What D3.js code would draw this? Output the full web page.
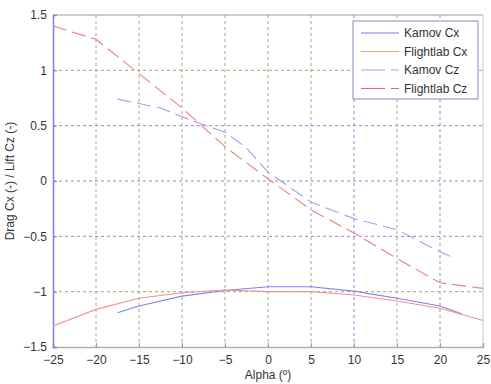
<!DOCTYPE html>
<html>
<head>
<meta charset="utf-8">
<script src="https://cdn.jsdelivr.net/npm/d3@7"></script>
<style>
  body { margin: 0; background: #fff; }
  text { font-family: "Liberation Sans", Arial, sans-serif; }
</style>
</head>
<body>
<svg id="chart" width="491" height="384"></svg>
<script>
// alpha (deg) and coefficient values
const kamovCxAlpha = [-17.5, -15, -10, -5, 0, 5, 10, 15, 20, 22.5];
const kamovCx = [-1.19, -1.13, -1.04, -0.99, -0.955, -0.955, -0.995, -1.06, -1.13, -1.2];
const flightlabCxAlpha = [-25, -20, -15, -10, -5, 0, 5, 10, 15, 20, 25];
const flightlabCx = [-1.31, -1.16, -1.06, -1.01, -0.985, -1.0, -1.0, -1.03, -1.085, -1.15, -1.26];
const kamovCzAlpha = [-17.5, -15, -12.5, -10, -5, -2.5, 0, 5, 10, 15, 17, 20, 21.5];
const kamovCz = [0.74, 0.7, 0.66, 0.58, 0.44, 0.3, 0.08, -0.19, -0.34, -0.44, -0.52, -0.64, -0.69];
const flightlabCzAlpha = [-25, -20, -15, -10, -5, 0, 5, 10, 15, 20, 25];
const flightlabCz = [1.4, 1.28, 0.97, 0.66, 0.31, 0.02, -0.26, -0.47, -0.7, -0.92, -0.97];
const xTicks = [-25, -20, -15, -10, -5, 0, 5, 10, 15, 20, 25];
const yTicks = [-1.5, -1, -0.5, 0, 0.5, 1, 1.5];
const seriesNames = ["Kamov Cx", "Flightlab Cx", "Kamov Cz", "Flightlab Cz"];

const svg = d3.select("#chart");
const plotLeft = 53, plotRight = 483, plotTop = 15, plotBottom = 347;
const x = d3.scaleLinear().domain([-25, 25]).range([plotLeft, plotRight]);
const y = d3.scaleLinear().domain([-1.5, 1.5]).range([plotBottom, plotTop]);

svg.append("rect").attr("x", plotLeft).attr("y", plotTop).attr("width", plotRight - plotLeft).attr("height", plotBottom - plotTop).attr("fill", "#fff");

// grid (colours alternate like in the reference)
const olive = "#a8a878", blue = "#8c8cc8";
const vGridColor = { "10": blue, "20": blue };
const hGridColor = { "1": olive, "-1": olive };
svg.append("g").selectAll("line").data(xTicks.slice(1, -1)).join("line")
  .attr("x1", d => x(d)).attr("x2", d => x(d)).attr("y1", plotTop).attr("y2", plotBottom)
  .attr("stroke", d => vGridColor[d] || olive).attr("stroke-width", 1).attr("stroke-dasharray", "3,3");
svg.append("g").selectAll("line").data(yTicks.slice(1, -1)).join("line")
  .attr("x1", plotLeft).attr("x2", plotRight).attr("y1", d => y(d)).attr("y2", d => y(d))
  .attr("stroke", d => hGridColor[d] || blue).attr("stroke-width", 1).attr("stroke-dasharray", "3,3");

// frame
svg.append("line").attr("x1", plotLeft).attr("x2", plotRight).attr("y1", plotTop).attr("y2", plotTop).attr("stroke", "#a0a090");
svg.append("line").attr("x1", plotRight).attr("x2", plotRight).attr("y1", plotTop).attr("y2", plotBottom).attr("stroke", "#c8c8c8");

// axes
const xAxis = svg.append("g").attr("transform", `translate(0,${plotBottom})`)
  .call(d3.axisBottom(x).tickValues(xTicks).tickSize(-4).tickPadding(8));
xAxis.select(".domain").attr("stroke", "#b0b0a0").attr("stroke-width", 1.5);
xAxis.selectAll(".tick line").attr("stroke", "#a0a090");
const yAxis = svg.append("g").attr("transform", `translate(${plotLeft},0)`)
  .call(d3.axisLeft(y).tickValues(yTicks).tickSize(-4).tickPadding(6).tickFormat(d3.format("")));
yAxis.select(".domain").attr("stroke", "#8080c8").attr("stroke-width", 1.5);
yAxis.selectAll(".tick line").attr("stroke", "#8080c8");
svg.selectAll(".tick text").attr("font-size", 12).attr("fill", "#333")
  .attr("font-family", "'Liberation Sans', Arial, sans-serif");

svg.append("text").attr("x", 268).attr("y", 379).attr("text-anchor", "middle")
  .attr("font-size", 12).attr("fill", "#333").text("Alpha (º)");
svg.append("text").attr("transform", `translate(14,${(plotTop + plotBottom) / 2}) rotate(-90)`)
  .attr("text-anchor", "middle").attr("font-size", 12).attr("fill", "#333")
  .text("Drag Cx (-) / Lift Cz (-)");

// series
const series = [
  { xs: kamovCxAlpha, ys: kamovCx, color: "#8080f0", dash: null },
  { xs: flightlabCxAlpha, ys: flightlabCx, color: "#f49090", dash: null },
  { xs: kamovCzAlpha, ys: kamovCz, color: "#a0a0f0", dash: "14,6" },
  { xs: flightlabCzAlpha, ys: flightlabCz, color: "#f07a8a", dash: "14,6" }
];
const line = d3.line().x(d => x(d[0])).y(d => y(d[1]));
series.forEach(s => {
  svg.append("path").datum(d3.zip(s.xs, s.ys)).attr("d", line)
    .attr("fill", "none").attr("stroke", s.color).attr("stroke-width", 1.1)
    .attr("stroke-dasharray", s.dash);
});

// legend
const legend = svg.append("g").attr("transform", "translate(353,21)");
legend.append("rect").attr("width", 125).attr("height", 78).attr("fill", "#fff")
  .attr("stroke", "#8888c0").attr("stroke-width", 1);
const legendColors = ["#8080f0", "#f0a088", "#a0a0f0", "#f06080"];
seriesNames.forEach((name, i) => {
  const ly = 12 + i * 18.5;
  legend.append("line").attr("x1", 8).attr("x2", 46).attr("y1", ly).attr("y2", ly)
    .attr("stroke", legendColors[i]).attr("stroke-width", 1.2)
    .attr("stroke-dasharray", series[i].dash ? "24,6" : null);
  legend.append("text").attr("x", 51).attr("y", ly + 4).attr("font-size", 12)
    .attr("fill", "#333").text(name);
});
</script>
</body>
</html>
